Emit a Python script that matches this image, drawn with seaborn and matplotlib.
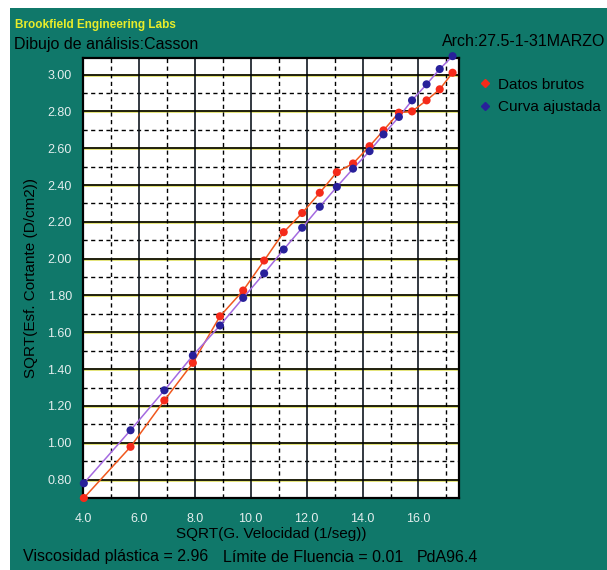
import matplotlib
matplotlib.use('Agg')
import matplotlib.pyplot as plt
import matplotlib.patches as mpatches
from matplotlib.lines import Line2D
from matplotlib.ticker import MultipleLocator, FormatStrFormatter
import seaborn as sns
import pandas as pd

# values
sqrt_rate = [4.03, 5.70, 6.91, 7.93, 8.90, 9.73, 10.48, 11.18, 11.84, 12.47,
             13.08, 13.66, 14.25, 14.75, 15.30, 15.77, 16.29, 16.76, 17.22]
datos_brutos = [0.70, 0.978, 1.23, 1.434, 1.687, 1.827, 1.99, 2.144, 2.248, 2.358,
                2.47, 2.517, 2.611, 2.697, 2.793, 2.80, 2.86, 2.92, 3.01]
curva_ajustada = [0.78, 1.068, 1.285, 1.474, 1.637, 1.787, 1.92, 2.05, 2.168, 2.282,
                  2.39, 2.489, 2.584, 2.675, 2.77, 2.86, 2.947, 3.03, 3.10]
series_names = ['Datos brutos', 'Curva ajustada']
x_ticks = [4.0, 6.0, 8.0, 10.0, 12.0, 14.0, 16.0]
y_ticks = [0.8, 1.0, 1.2, 1.4, 1.6, 1.8, 2.0, 2.2, 2.4, 2.6, 2.8, 3.0]

df = pd.DataFrame({
    'x': sqrt_rate * 2,
    'y': datos_brutos + curva_ajustada,
    'serie': [series_names[0]] * len(sqrt_rate) + [series_names[1]] * len(sqrt_rate),
})

teal = '#10786a'
tick_col = '#e4eeee'
line_pal = {'Datos brutos': '#f0581e', 'Curva ajustada': '#a46ae0'}
mark_pal = {'Datos brutos': '#f52a1a', 'Curva ajustada': '#28209a'}

sns.set_style('white')
plt.rcParams['font.family'] = ['Liberation Sans', 'DejaVu Sans']

fig = plt.figure(figsize=(6.07, 5.70), dpi=100)
fig.patch.set_facecolor('white')
# teal panel of the scanned screen (white scan margin on top/left)
fig.patches.append(mpatches.Rectangle((10 / 607, 0), 1, 1 - 8 / 570,
                                      transform=fig.transFigure, facecolor=teal,
                                      edgecolor='none', zorder=-10))

ax = fig.add_axes([83 / 607, 1 - 498 / 570, (459 - 83) / 607, (498 - 58) / 570])
ax.set_zorder(5)
ax.set_facecolor('white')

# grid: solid majors, dashed minors
for yv in [0.7 + 0.1 * k for k in range(25)]:
    if abs(round(yv * 10) % 2) == 0:
        ax.axhline(yv, color='#dcdc50', lw=1.8, zorder=1)
        ax.axhline(yv, color='black', lw=1.2, zorder=1.1)
    else:
        ax.axhline(yv, color='black', lw=1.0, ls=(0, (3, 2.5)), zorder=1)
for xv in range(5, 18):
    if xv % 2 == 0:
        ax.axvline(xv, color='#101820', lw=1.2, zorder=1)
    else:
        ax.axvline(xv, color='black', lw=1.0, ls=(0, (3, 2.5)), zorder=1)

sns.lineplot(data=df, x='x', y='y', hue='serie', palette=line_pal, lw=1.1,
             ax=ax, legend=False, zorder=3, sort=False)
sns.scatterplot(data=df, x='x', y='y', hue='serie', palette=mark_pal, s=34,
                edgecolor='none', ax=ax, legend=False, zorder=4, clip_on=False)

ax.set_xlim(4.0, 17.45)
ax.set_ylim(0.70, 3.09)
ax.xaxis.set_minor_locator(MultipleLocator(1.0))
ax.yaxis.set_minor_locator(MultipleLocator(0.1))
ax.set_xticks(x_ticks)
ax.set_yticks(y_ticks)
ax.xaxis.set_major_formatter(FormatStrFormatter('%.1f'))
ax.yaxis.set_major_formatter(FormatStrFormatter('%.2f'))
ax.tick_params(axis='both', which='major', direction='out', length=5, width=1,
               color=tick_col, labelcolor=tick_col, labelsize=9, pad=3)
ax.tick_params(axis='both', which='minor', direction='out', length=3, width=1,
               color=tick_col)
ax.tick_params(axis='x', which='major', pad=6)
for s in ax.spines.values():
    s.set_color('black')
    s.set_linewidth(1.6)
    s.set_visible(True)

ax.set_xlabel('SQRT(G. Velocidad (1/seg))', fontsize=11, color='black', labelpad=1)
ax.set_ylabel('SQRT(Esf. Cortante (D/cm2))', fontsize=11, color='black', labelpad=7)

# header texts
fig.text(15 / 607, 1 - 25 / 570, 'Brookfield Engineering Labs', color='#e8ec2a',
         fontsize=8.5, fontweight='bold', va='center', ha='left')
fig.text(14 / 607, 1 - 45 / 570, 'Dibujo de análisis:Casson', color='black',
         fontsize=11.5, va='center', ha='left')
fig.text(605 / 607, 1 - 42 / 570, 'Arch:27.5-1-31MARZO', color='black',
         fontsize=11.5, va='center', ha='right')

# legend outside the plot on the teal panel
handles = [Line2D([], [], ls='none', marker='D', ms=4, color=mark_pal[n]) for n in series_names]
fig.legend(handles, series_names, loc='upper left', bbox_to_anchor=(462 / 607, 1 - 64 / 570),
           frameon=False, fontsize=11, handletextpad=0.25, labelspacing=0.55,
           handlelength=1.2, labelcolor='black')

# footer
fig.text(23 / 607, 1 - 557 / 570, 'Viscosidad plástica = 2.96', fontsize=11.5,
         color='black', va='center', ha='left')
fig.text(223 / 607, 1 - 557 / 570, 'Límite de Fluencia = 0.01', fontsize=11.5,
         color='black', va='center', ha='left')
fig.text(417 / 607, 1 - 557 / 570, 'PdA96.4', fontsize=11.5,
         color='black', va='center', ha='left')

fig.savefig('out.png', dpi=100, facecolor=fig.get_facecolor())
